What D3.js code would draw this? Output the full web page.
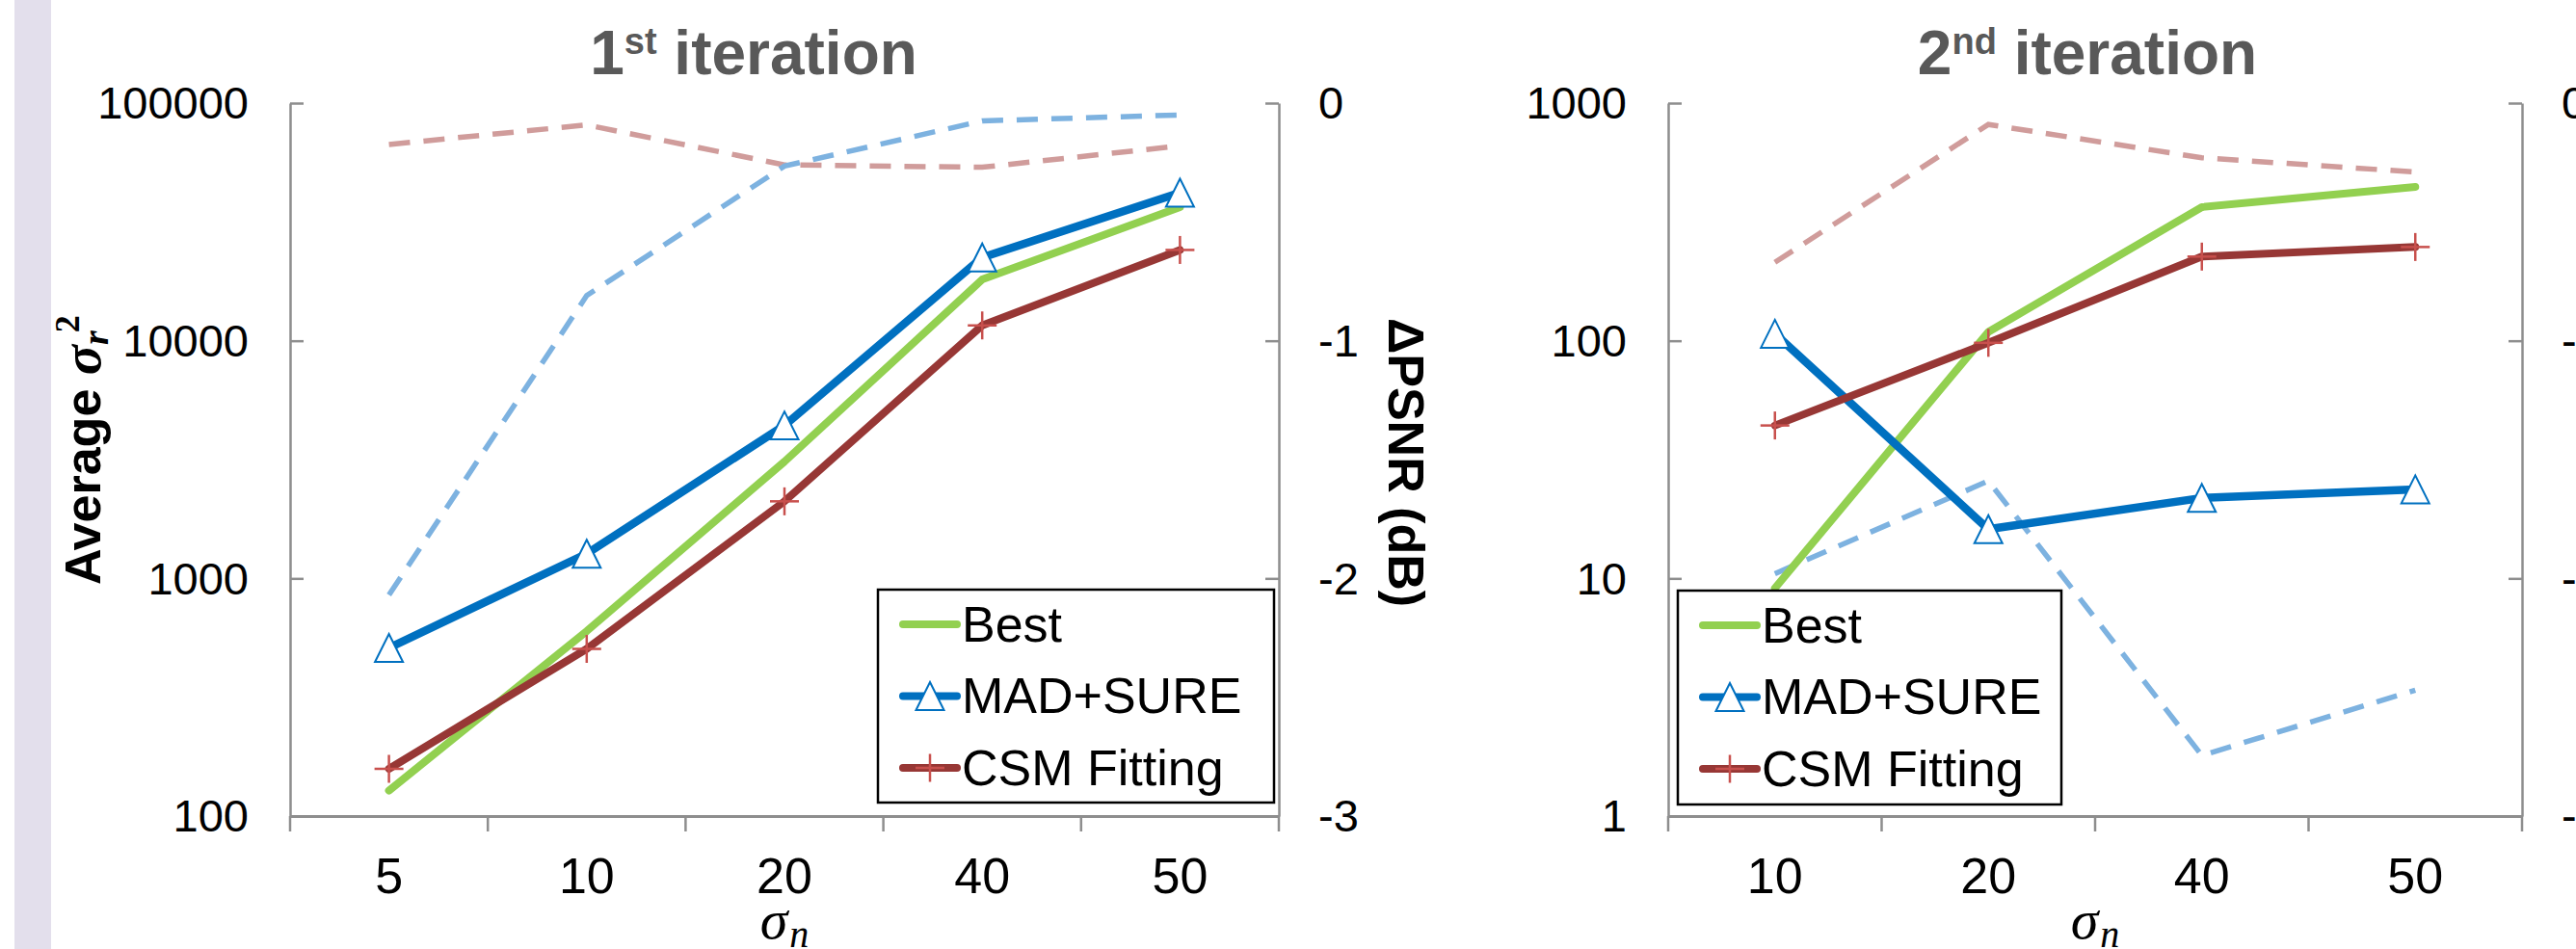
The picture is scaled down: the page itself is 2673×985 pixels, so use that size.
<!DOCTYPE html>
<html><head><meta charset="utf-8">
<script src="https://cdn.jsdelivr.net/npm/d3@7"></script>
<style>body{margin:0;background:#fff;} svg{display:block;}</style>
</head><body>
<svg id="c" width="2673" height="985"></svg>
<script>
// ---------- data ----------
const cats1 = ["5","10","20","40","50"];
const best1 = [128, 600, 3100, 18100, 36500];
const mad1 = [510, 1270, 4400, 22400, 42000];
const csm1 = [158, 505, 2110, 11600, 24100];
const madPsnr1 = [-2.07, -0.81, -0.265, -0.075, -0.05];
const csmPsnr1 = [-0.174, -0.092, -0.26, -0.27, -0.18];

const cats2 = ["10","20","40","50"];
const best2 = [9.1, 109, 365, 444];
const mad2 = [107, 16.1, 21.8, 23.7];
const csm2 = [44, 98, 226, 248];
const madPsnr2 = [-1.98, -1.59, -2.745, -2.47];
const csmPsnr2 = [-0.67, -0.09, -0.23, -0.29];

const yTicks1 = [100, 1000, 10000, 100000];
const yTicks2 = [1, 10, 100, 1000];
const yRTicks = [0, -1, -2, -3];
const seriesNames = ["Best", "MAD+SURE", "CSM Fitting"];
const titles = [["1","st"," iteration"],["2","nd"," iteration"]];

// ---------- style ----------
const C = {best:"#92D050", mad:"#0070C0", csm:"#973735", plus:"#C8504D",
           madD:"#7DB2E0", csmD:"#D09C9B", axis:"#8E8E8E", title:"#595959"};
const SANS = "'Liberation Sans', Arial, sans-serif";
const SERIF = "'Liberation Serif', 'DejaVu Serif', serif";

const svg = d3.select("#c");
svg.append("rect").attr("x",15).attr("y",0).attr("width",38).attr("height",985).attr("fill","#E3DFEC");

const panels = [
  {cats:cats1, best:best1, mad:mad1, csm:csm1, madP:madPsnr1, csmP:csmPsnr1,
   left:301, right:1327, top:107, bottom:847, dom:[100,100000], ticks:yTicks1,
   legend:{x:911,y:612,w:411,h:221}, titleX:782, title:titles[0], yTitle:true, rTitle:true},
  {cats:cats2, best:best2, mad:mad2, csm:csm2, madP:madPsnr2, csmP:csmPsnr2,
   left:1731, right:2617, top:107, bottom:847, dom:[1,1000], ticks:yTicks2,
   legend:{x:1741,y:613,w:398,h:222}, titleX:2166, title:titles[1], yTitle:false, rTitle:false}
];

const tri = "M0,-14.5L14.5,14.5L-14.5,14.5Z";

function drawPlus(g, x, y) {
  g.append("line").attr("x1",x-15).attr("x2",x+15).attr("y1",y).attr("y2",y)
    .attr("stroke",C.plus).attr("stroke-width",2.5);
  g.append("line").attr("x1",x).attr("x2",x).attr("y1",y-14.5).attr("y2",y+14.5)
    .attr("stroke",C.plus).attr("stroke-width",2.5);
}

panels.forEach(p => {
  const x = d3.scaleBand().domain(p.cats).range([p.left, p.right]);
  const y = d3.scaleLog().domain(p.dom).range([p.bottom, p.top]);
  const yR = d3.scaleLinear().domain([-3,0]).range([p.bottom, p.top]);
  const cx = d => x(d) + x.bandwidth()/2;
  const g = svg.append("g");

  // title
  const t = g.append("text").attr("x", p.titleX).attr("y", 77).attr("text-anchor","middle")
    .attr("font-family", SANS).attr("font-weight","bold").attr("fill", C.title).attr("font-size",64);
  t.append("tspan").text(p.title[0]);
  t.append("tspan").attr("font-size",38).attr("dy",-21).text(p.title[1]);
  t.append("tspan").attr("dy",21).text(p.title[2]);

  // left axis
  const la = g.append("g").attr("transform",`translate(${p.left},0)`)
    .call(d3.axisLeft(y).tickValues(p.ticks).tickSizeInner(-14).tickSizeOuter(0).tickPadding(43)
      .tickFormat(d => String(d)));
  // right axis
  const ra = g.append("g").attr("transform",`translate(${p.right},0)`)
    .call(d3.axisRight(yR).tickValues(yRTicks).tickSizeInner(-14).tickSizeOuter(0).tickPadding(41)
      .tickFormat(d => String(d)));
  [la, ra].forEach(a => {
    a.selectAll("path,line").attr("stroke", C.axis).attr("stroke-width", 2.5);
    a.selectAll("text").attr("font-family", SANS).attr("font-size", 47).attr("fill","#000").attr("dy","0.34em");
  });
  // bottom axis
  const ba = g.append("g").attr("transform",`translate(0,${p.bottom})`)
    .call(d3.axisBottom(x).tickSizeInner(0).tickSizeOuter(0).tickPadding(43));
  ba.select("path").attr("stroke", C.axis).attr("stroke-width", 3);
  ba.selectAll("text").attr("font-family", SANS).attr("font-size", 52).attr("fill","#000");
  const bounds = d3.range(p.cats.length + 1).map(i => p.left + i * x.step());
  g.selectAll(null).data(bounds).join("line")
    .attr("x1", d => d).attr("x2", d => d).attr("y1", p.bottom).attr("y2", p.bottom + 16)
    .attr("stroke", C.axis).attr("stroke-width", 2.5);

  // x title
  const xt = g.append("text").attr("x",(p.left+p.right)/2).attr("y",974).attr("text-anchor","middle")
    .attr("font-family", SERIF).attr("font-style","italic").attr("font-size",58);
  xt.append("tspan").text("σ");
  xt.append("tspan").attr("font-size",40).attr("dx",2).attr("dy",9).text("n");

  // dashed secondary series
  const lineR = d3.line().x((d,i) => cx(p.cats[i])).y(d => yR(d));
  g.append("path").attr("d", lineR(p.csmP)).attr("fill","none").attr("stroke",C.csmD)
    .attr("stroke-width",5.5).attr("stroke-dasharray","22 14");
  g.append("path").attr("d", lineR(p.madP)).attr("fill","none").attr("stroke",C.madD)
    .attr("stroke-width",5.5).attr("stroke-dasharray","22 14");

  // primary series
  const lineL = d3.line().x((d,i) => cx(p.cats[i])).y(d => y(d));
  g.append("path").attr("d", lineL(p.best)).attr("fill","none").attr("stroke",C.best)
    .attr("stroke-width",8).attr("stroke-linecap","round").attr("stroke-linejoin","round");
  g.append("path").attr("d", lineL(p.mad)).attr("fill","none").attr("stroke",C.mad)
    .attr("stroke-width",8.5).attr("stroke-linecap","round").attr("stroke-linejoin","round");
  g.selectAll(null).data(p.mad).join("path").attr("d", tri)
    .attr("transform",(d,i) => `translate(${cx(p.cats[i])},${y(d)})`)
    .attr("fill","#fff").attr("stroke",C.mad).attr("stroke-width",2);
  g.append("path").attr("d", lineL(p.csm)).attr("fill","none").attr("stroke",C.csm)
    .attr("stroke-width",8).attr("stroke-linecap","round").attr("stroke-linejoin","round");
  p.csm.forEach((d,i) => drawPlus(g, cx(p.cats[i]), y(d)));

  // legend
  const L = p.legend;
  const lg = g.append("g");
  lg.append("rect").attr("x",L.x).attr("y",L.y).attr("width",L.w).attr("height",L.h)
    .attr("fill","#fff").attr("stroke","#000").attr("stroke-width",2.5);
  const cols = [C.best, C.mad, C.csm];
  seriesNames.forEach((name, k) => {
    const yy = L.y + 36 + k * 74.5;
    const x0 = L.x + 26, x1 = L.x + 82;
    lg.append("line").attr("x1",x0).attr("x2",x1).attr("y1",yy).attr("y2",yy)
      .attr("stroke",cols[k]).attr("stroke-width",8).attr("stroke-linecap","round");
    if (k === 1) lg.append("path").attr("d",tri).attr("transform",`translate(${(x0+x1)/2},${yy})`)
      .attr("fill","#fff").attr("stroke",C.mad).attr("stroke-width",2);
    if (k === 2) drawPlus(lg, (x0+x1)/2, yy);
    lg.append("text").attr("x", L.x + 87).attr("y", yy + 17.5)
      .attr("font-family", SANS).attr("font-size", 52).attr("fill","#000").text(name);
  });

  // y title (left)
  if (p.yTitle) {
    const yt = g.append("text").attr("transform","translate(104,607) rotate(-90)")
      .attr("font-family", SANS).attr("font-weight","bold").attr("font-size",52).attr("fill","#000");
    yt.append("tspan").text("Average ");
    yt.append("tspan").attr("font-family",SERIF).attr("font-style","italic").attr("font-size",58).text("σ");
    yt.append("tspan").attr("font-family",SERIF).attr("font-style","italic").attr("font-size",38).attr("dy",8).text("r");
    yt.append("tspan").attr("font-family",SERIF).attr("font-size",36).attr("dx",-2).attr("dy",-30).text("2");
  }
  if (p.rTitle) {
    g.append("text").attr("transform",`translate(${p.right+114},480) rotate(90)`)
      .attr("text-anchor","middle").attr("font-family", SANS).attr("font-weight","bold")
      .attr("font-size",52).attr("fill","#000").text("ΔPSNR (dB)");
  }
});
</script>
</body></html>
